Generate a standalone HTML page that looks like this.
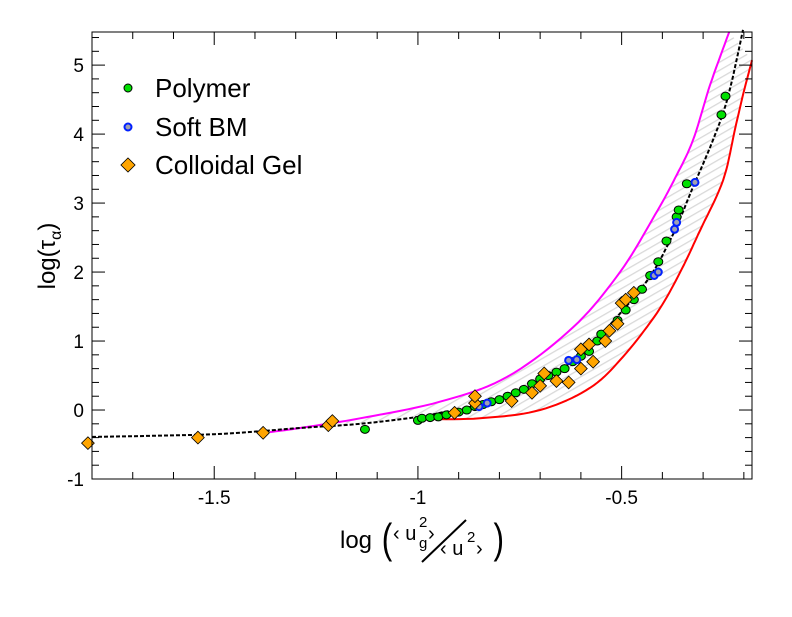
<!DOCTYPE html>
<html><head><meta charset="utf-8"><style>
body{margin:0;background:#fff}
svg text{font-family:"Liberation Sans",sans-serif;fill:#000}
</style></head><body>
<svg id="chart" width="792" height="612" xmlns="http://www.w3.org/2000/svg">
<defs>
<pattern id="hatch" patternUnits="userSpaceOnUse" width="7" height="7" patternTransform="rotate(60)">
<line x1="0" y1="0" x2="0" y2="7" stroke="#d9d9d9" stroke-width="2.6"/>
</pattern>
</defs>
<g id="fill"></g>
<g id="curves"></g>
<g id="points"></g>
<rect x="92" y="32" width="660" height="447" fill="none" stroke="#000" stroke-width="1"/>
<g id="axes"></g>
<g>
<ellipse cx="128" cy="88" rx="4" ry="4" fill="#00e000" stroke="#000" stroke-width="1"/>
<text x="155" y="97" font-size="26">Polymer</text>
<circle cx="128" cy="127" r="3.5" fill="#a0a0b0" stroke="#0020ff" stroke-width="2"/>
<text x="155" y="136" font-size="26">Soft BM</text>
<rect x="123" y="160" width="10" height="10" fill="#ffa500" stroke="#000" stroke-width="0.8" transform="rotate(45 128 165)"/>
<text x="155" y="174" font-size="26">Colloidal Gel</text>
</g>
<text transform="translate(55,256) rotate(-90)" font-size="24" text-anchor="middle">log(τ<tspan font-size="16" dy="6">α</tspan><tspan dy="-6">)</tspan></text>
<g font-size="24">
<text x="340" y="548">log</text>
<text x="381" y="553" font-size="42" transform="scale(0.75,1) translate(128,0)">(</text>
<text x="393" y="540" font-size="20">‹ u</text>
<text x="419" y="527" font-size="15">2</text>
<text x="419" y="548" font-size="15">g</text>
<text x="428" y="540" font-size="20">›</text>
<line x1="422" y1="562" x2="466" y2="520" stroke="#000" stroke-width="2"/>
<text x="440" y="555" font-size="20">‹ u</text>
<text x="467" y="542" font-size="15">2</text>
<text x="476" y="555" font-size="20">›</text>
<text x="494" y="553" font-size="42" transform="scale(0.75,1) translate(164,0)">)</text>
</g>
</svg>
<script>
const xMin=-1.8,xMax=-0.18,yMin=-1,yMax=5.48;
const L=92,R=752,T=32,B=479;
function sx(v){return L+(v-xMin)/(xMax-xMin)*(R-L);}
function sy(v){return B-(v-yMin)/(yMax-yMin)*(B-T);}
const NS="http://www.w3.org/2000/svg";
const blackX=[-1.8,-1.5,-1.289,-1.142,-1.0,-0.946,-0.781,-0.619,-0.455,-0.381,-0.325,-0.276,-0.239,-0.202];
const blackY=[-0.39,-0.35,-0.26,-0.20,-0.10,-0.04,0.19,0.72,1.74,2.46,3.23,3.91,4.54,5.51];
const magX=[-1.363,-1.289,-1.142,-0.946,-0.781,-0.619,-0.504,-0.418,-0.369,-0.325,-0.283,-0.236];
const magY=[-0.32,-0.26,-0.12,0.12,0.48,1.20,2.0,2.83,3.36,3.91,4.71,5.48];
const redX=[-0.995,-0.848,-0.700,-0.578,-0.497,-0.413,-0.357,-0.307,-0.251,-0.221,-0.202,-0.180];
const redY=[-0.13,-0.12,0.0,0.32,0.77,1.41,1.99,2.61,3.33,4.09,4.57,5.07];
const polyX=[-1.13,-1.0,-0.99,-0.97,-0.95,-0.93,-0.9,-0.88,-0.86,-0.84,-0.82,-0.8,-0.78,-0.76,-0.74,-0.72,-0.7,-0.68,-0.66,-0.64,-0.62,-0.6,-0.58,-0.56,-0.55,-0.53,-0.51,-0.49,-0.47,-0.45,-0.43,-0.41,-0.39,-0.365,-0.36,-0.34,-0.255,-0.245];
const polyY=[-0.28,-0.15,-0.12,-0.11,-0.1,-0.07,-0.03,0.0,0.05,0.08,0.12,0.15,0.2,0.25,0.3,0.38,0.45,0.5,0.55,0.6,0.7,0.78,0.85,1.0,1.1,1.15,1.3,1.45,1.6,1.75,1.95,2.15,2.45,2.8,2.9,3.28,4.28,4.55];
const bmX=[-0.85,-0.83,-0.63,-0.61,-0.42,-0.41,-0.37,-0.365,-0.32];
const bmY=[0.05,0.1,0.72,0.73,1.95,2.0,2.62,2.72,3.3];
const gelX=[-1.81,-1.54,-1.38,-1.22,-1.21,-0.91,-0.86,-0.86,-0.77,-0.72,-0.7,-0.69,-0.66,-0.63,-0.6,-0.6,-0.57,-0.58,-0.54,-0.53,-0.51,-0.5,-0.49,-0.47];
const gelY=[-0.48,-0.4,-0.33,-0.22,-0.16,-0.04,0.1,0.2,0.13,0.25,0.35,0.53,0.42,0.4,0.6,0.88,0.7,0.95,1.0,1.15,1.25,1.55,1.6,1.7];
const xTicks=[-1.5,-1,-0.5];
const xTickLabels=["-1.5","-1","-0.5"];
const yTicks=[-1,0,1,2,3,4,5];
const yTickLabels=["-1","0","1","2","3","4","5"];
function smooth(xs,ys){
  const P=xs.map((x,i)=>[sx(x),sy(ys[i])]);const out=[];
  for(let i=0;i<P.length-1;i++){
    const p0=P[Math.max(i-1,0)],p1=P[i],p2=P[i+1],p3=P[Math.min(i+2,P.length-1)];
    for(let t=0;t<1;t+=0.1){const t2=t*t,t3=t2*t;
      const f=(a,b,c,d)=>0.5*((2*b)+(-a+c)*t+(2*a-5*b+4*c-d)*t2+(-a+3*b-3*c+d)*t3);
      out.push([f(p0[0],p1[0],p2[0],p3[0]),f(p0[1],p1[1],p2[1],p3[1])]);}
  }
  out.push(P[P.length-1]);return out;
}
function str(a){return a.map(p=>p[0].toFixed(1)+","+p[1].toFixed(1));}
const fill=document.getElementById('fill');
const bi=blackX.findIndex(v=>v>=-1.0);
const bandPts=str(smooth(magX,magY)).concat(str(smooth(redX,redY)).reverse()).concat(str(smooth(blackX.slice(2,bi+1),blackY.slice(2,bi+1))).reverse());
const poly=document.createElementNS(NS,'polygon');


poly.setAttribute('points',bandPts.join(' '));poly.setAttribute('fill','url(#hatch)');
fill.appendChild(poly);
const cg=document.getElementById('curves');
function line(xs,ys,col,dash,name){const p=document.createElementNS(NS,'polyline');


p.setAttribute('points',str(smooth(xs,ys)).join(' '));p.setAttribute('fill','none');p.setAttribute('stroke',col);p.setAttribute('stroke-width','2');p.setAttribute('stroke-linejoin','round');if(dash)p.setAttribute('stroke-dasharray',dash);cg.appendChild(p);}
line(magX,magY,'#ff00ff',null,'magenta-bound-curve');
line(redX,redY,'#ff0000',null,'red-bound-curve');
line(blackX,blackY,'#000',"4,2",'fit-curve');
const pg=document.getElementById('points');
polyX.forEach((x,i)=>{const e=document.createElementNS(NS,'ellipse');


e.setAttribute('cx',sx(x));e.setAttribute('cy',sy(polyY[i]));e.setAttribute('rx',4.5);e.setAttribute('ry',4);e.setAttribute('fill','#00e000');e.setAttribute('stroke','#000');pg.appendChild(e);});
bmX.forEach((x,i)=>{const e=document.createElementNS(NS,'circle');


e.setAttribute('cx',sx(x));e.setAttribute('cy',sy(bmY[i]));e.setAttribute('r',3.5);e.setAttribute('fill','#a0a0b0');e.setAttribute('stroke','#0020ff');e.setAttribute('stroke-width','2');pg.appendChild(e);});
gelX.forEach((x,i)=>{const e=document.createElementNS(NS,'rect');


const cx=sx(x),cy=sy(gelY[i]);e.setAttribute('x',cx-4.5);e.setAttribute('y',cy-4.5);e.setAttribute('width',9);e.setAttribute('height',9);e.setAttribute('transform',`rotate(45 ${cx} ${cy})`);e.setAttribute('fill','#ffa500');e.setAttribute('stroke','#000');e.setAttribute('stroke-width','0.8');pg.appendChild(e);});
const ax=document.getElementById('axes');
function tk(x1,y1,x2,y2){const l=document.createElementNS(NS,'line');


l.setAttribute('x1',x1);l.setAttribute('y1',y1);l.setAttribute('x2',x2);l.setAttribute('y2',y2);l.setAttribute('stroke','#000');ax.appendChild(l);}
for(let v=-1.8;v<=-0.18;v+=0.1){const x=sx(v);const major=xTicks.some(t=>Math.abs(t-v)<1e-6);const len=major?13:7;tk(x,B,x,B-len);tk(x,T,x,T+len);}
for(let v=-1;v<=5.41;v+=0.2){const y=sy(v);const major=Math.abs(v-Math.round(v))<1e-6;const len=major?13:7;tk(L,y,L+len,y);tk(R,y,R-len,y);}
xTicks.forEach((v,i)=>{const t=document.createElementNS(NS,'text');


t.setAttribute('x',sx(v));t.setAttribute('y',504);t.setAttribute('font-size','19');t.setAttribute('text-anchor','middle');t.textContent=xTickLabels[i];ax.appendChild(t);});
yTicks.forEach((v,i)=>{const t=document.createElementNS(NS,'text');


t.setAttribute('x',84);t.setAttribute('y',sy(v)+7);t.setAttribute('font-size','19');t.setAttribute('text-anchor','end');t.textContent=yTickLabels[i];ax.appendChild(t);});
</script>
</body></html>
